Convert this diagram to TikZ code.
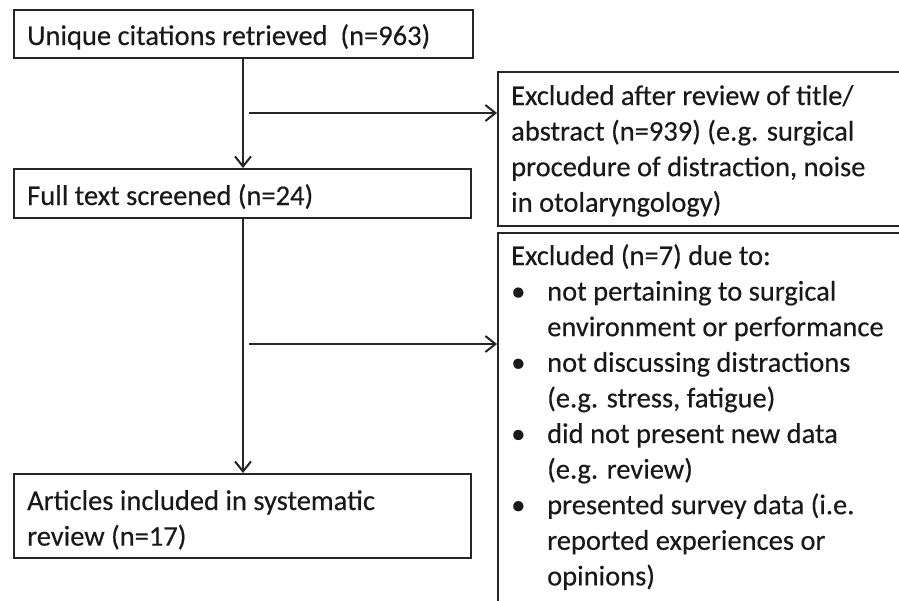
\documentclass[tikz,border=0pt]{standalone}
\usepackage{fontspec}
\setmainfont{Carlito}[FakeBold=0.3]
\usetikzlibrary{arrows.meta}
\newcommand\blt{\makebox[36pt][l]{\hspace{0pt}\textbullet}}
\newcommand\ind{\hspace*{36pt}}
\begin{document}
\begin{tikzpicture}[x=1pt,y=-1pt,
  box/.style={draw=black!85, line width=1.6pt, rectangle, inner sep=0pt, anchor=north west},
  txt/.style={anchor=base west, inner sep=0pt, font=\fontsize{28.5}{35.6}\selectfont, text=black!90},
  arr/.style={draw=black!85, line width=1.6pt, -{Straight Barb[length=10pt,width=16pt,line width=2pt]}},
]
\useasboundingbox (0,0) rectangle (899,600);
\clip (0,0) rectangle (899,600);
\node[box, minimum width=459pt, minimum height=48pt] (b1) at (13,9) {};
\node[box, minimum width=457pt, minimum height=49pt] (b2) at (13,168) {};
\node[box, minimum width=457pt, minimum height=84pt] (b3) at (13,473) {};
\node[box, minimum width=420pt, minimum height=154pt] (e1) at (497,71) {};
\node[box, minimum width=420pt, minimum height=420pt] (e2) at (497,232) {};

\node[txt] (t1) at (27,45) {Unique citations retrieved~ (n=963)};
\node[txt] (t2) at (27,205) {Full text screened (n=24)};
\node[txt] (t3) at (27,510) {\begin{tabular}[t]{@{}l@{}}Articles included in systematic\\ review (n=17)\end{tabular}};
\node[txt] (t4) at (511,105) {\begin{tabular}[t]{@{}l@{}}Excluded after review of title/\\ abstract (n=939) (e.g. surgical\\ procedure of distraction, noise\\ in otolaryngology)\end{tabular}};
\node[txt] (t5) at (511,265) {\begin{tabular}[t]{@{}l@{}}Excluded (n=7) due to:\\
\blt not pertaining to surgical\\
\ind environment or performance\\
\blt not discussing distractions\\
\ind (e.g. stress, fatigue)\\
\blt did not present new data\\
\ind (e.g. review)\\
\blt presented survey data (i.e.\\
\ind reported experiences or\\
\ind opinions)\end{tabular}};

\coordinate (v) at (243,0);
\draw[arr] (b1.south -| v) -- (b2.north -| v);
\draw[arr] (b2.south -| v) -- (b3.north -| v);
\coordinate (h1) at (249,113);
\coordinate (h2) at (249,344);
\draw[arr] (h1) -- (h1 -| e1.west);
\draw[arr] (h2) -- (h2 -| e2.west);
\end{tikzpicture}
\end{document}
